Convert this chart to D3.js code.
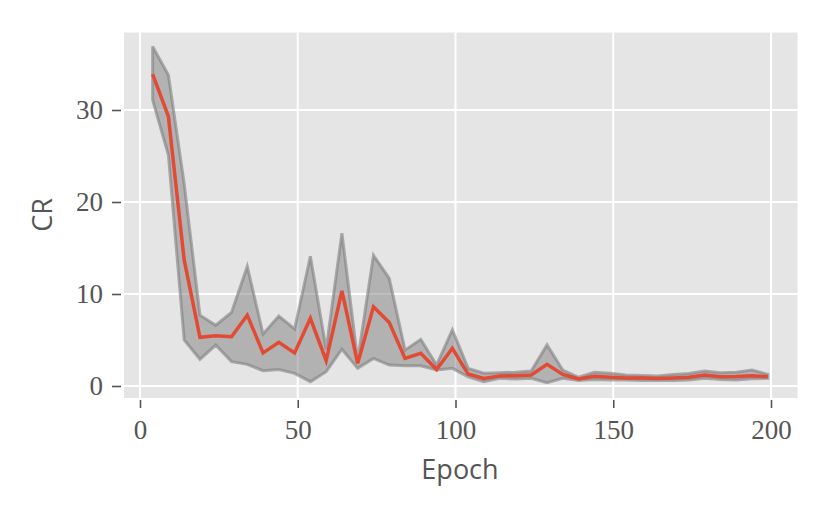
<!DOCTYPE html>
<html>
<head>
<meta charset="utf-8">
<script src="https://cdn.jsdelivr.net/npm/d3@7"></script>
<style>
  body { margin: 0; background: #ffffff; }
  svg { display: block; }
</style>
</head>
<body>
<svg id="chart" width="830" height="519"></svg>
<script>
const epochs = [4, 9, 14, 19, 24, 29, 34, 39, 44, 49, 54, 59, 64, 69, 74, 79, 84, 89, 94, 99,
  104, 109, 114, 119, 124, 129, 134, 139, 144, 149, 154, 159, 164, 169, 174, 179, 184, 189, 194, 199];
const meanCR = [33.9, 29.3, 13.7, 5.3, 5.47, 5.36, 7.7, 3.6, 4.75, 3.6, 7.35, 2.75, 10.35, 2.46, 8.6, 6.9, 3.0, 3.55, 1.8, 4.1,
  1.3, 0.83, 1.1, 1.12, 1.2, 2.35, 1.25, 0.76, 1.05, 0.95, 0.87, 0.87, 0.82, 0.87, 0.95, 1.2, 1.0, 1.02, 1.12, 1.0];
const upperCR = [36.9, 33.8, 22.0, 7.7, 6.6, 8.0, 13.0, 5.65, 7.6, 6.2, 14.1, 4.0, 16.6, 2.8, 14.2, 11.7, 3.9, 5.07, 2.28, 6.1,
  1.92, 1.38, 1.45, 1.5, 1.63, 4.46, 1.74, 0.95, 1.48, 1.38, 1.2, 1.15, 1.1, 1.25, 1.35, 1.63, 1.45, 1.5, 1.74, 1.27];
const lowerCR = [31.1, 25.1, 5.0, 2.9, 4.45, 2.65, 2.35, 1.67, 1.8, 1.38, 0.47, 1.56, 4.0, 1.92, 3.0, 2.28, 2.2, 2.2, 1.74, 1.92,
  1.0, 0.47, 0.83, 0.75, 0.83, 0.36, 0.83, 0.6, 0.7, 0.65, 0.65, 0.6, 0.6, 0.6, 0.65, 0.85, 0.7, 0.65, 0.8, 0.83];
const xTicks = [0, 50, 100, 150, 200];
const yTicks = [0, 10, 20, 30];
const xLabel = "Epoch";
const yLabel = "CR";

const svg = d3.select("#chart");
const plot = { left: 124, right: 797.5, top: 32.5, bottom: 398 };

const x = d3.scaleLinear().domain([0, 200]).range([140, 771]);
const y = d3.scaleLinear().domain([0, 30]).range([386, 110]);

const rows = epochs.map((e, i) => ({ e, m: meanCR[i], lo: lowerCR[i], hi: upperCR[i] }));

// background
svg.append("rect")
  .attr("x", plot.left).attr("y", plot.top)
  .attr("width", plot.right - plot.left).attr("height", plot.bottom - plot.top)
  .attr("fill", "#E5E5E5");

// grid
svg.append("g").selectAll("line").data(xTicks).join("line")
  .attr("x1", d => x(d)).attr("x2", d => x(d))
  .attr("y1", plot.top).attr("y2", plot.bottom)
  .attr("stroke", "#ffffff").attr("stroke-width", 2);
svg.append("g").selectAll("line").data(yTicks).join("line")
  .attr("y1", d => y(d)).attr("y2", d => y(d))
  .attr("x1", plot.left).attr("x2", plot.right)
  .attr("stroke", "#ffffff").attr("stroke-width", 2);

// band
const area = d3.area().x(d => x(d.e)).y0(d => y(d.lo)).y1(d => y(d.hi));
svg.append("path").datum(rows)
  .attr("d", area)
  .attr("fill", "#7f7f7f").attr("fill-opacity", 0.5)
  .attr("stroke", "#7f7f7f").attr("stroke-opacity", 0.6)
  .attr("stroke-width", 3).attr("stroke-linejoin", "miter");

// mean line
const line = d3.line().x(d => x(d.e)).y(d => y(d.m));
svg.append("path").datum(rows)
  .attr("d", line)
  .attr("fill", "none")
  .attr("stroke", "#E24A33").attr("stroke-width", 3.5);

// axes
const xAxis = svg.append("g")
  .attr("transform", `translate(0,${plot.bottom + 2})`)
  .call(d3.axisBottom(x).tickValues(xTicks).tickSize(8).tickPadding(12).tickFormat(d3.format("d")));
const yAxis = svg.append("g")
  .attr("transform", `translate(${plot.left - 3},0)`)
  .call(d3.axisLeft(y).tickValues(yTicks).tickSize(9).tickPadding(9).tickFormat(d3.format("d")));

[xAxis, yAxis].forEach(g => {
  g.select(".domain").remove();
  g.selectAll(".tick line").attr("stroke", "#555555").attr("stroke-width", 1.6);
  g.selectAll(".tick text")
    .attr("fill", "#555555")
    .style("font-family", "'Liberation Serif', 'DejaVu Serif', serif")
    .style("font-size", "27px");
});
xAxis.selectAll(".tick text").attr("dy", "0.72em");

svg.append("text")
  .attr("x", 460).attr("y", 479)
  .attr("text-anchor", "middle")
  .attr("fill", "#555555")
  .style("font-family", "'Open Sans', 'DejaVu Sans', sans-serif")
  .style("font-size", "27px")
  .text(xLabel);

svg.append("text")
  .attr("transform", "translate(52,215) rotate(-90)")
  .attr("text-anchor", "middle")
  .attr("fill", "#555555")
  .style("font-family", "'Open Sans', 'DejaVu Sans', sans-serif")
  .style("font-size", "27px")
  .text(yLabel);
</script>
</body>
</html>
